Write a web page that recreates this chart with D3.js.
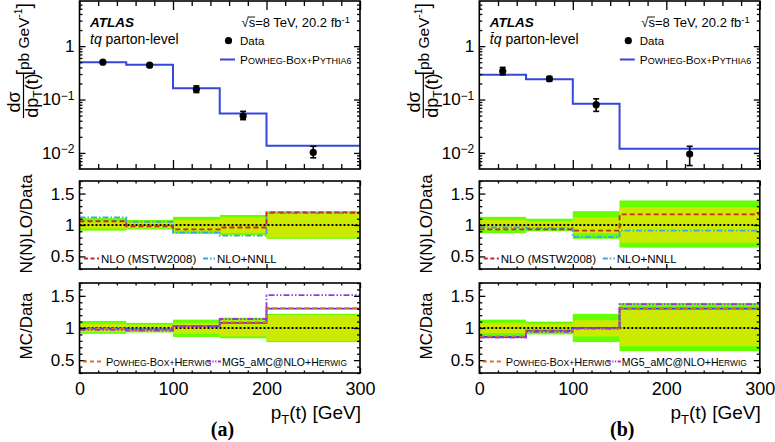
<!DOCTYPE html>
<html><head><meta charset="utf-8">
<script src="https://cdn.jsdelivr.net/npm/d3@7"></script>
<style>
body{margin:0;background:#fff}
text{font-family:"Liberation Sans",Arial,Helvetica,sans-serif;fill:#000}
</style>
</head><body>
<svg id="c" width="775" height="442" xmlns="http://www.w3.org/2000/svg"></svg>
<script>
// ---------------- data: panel (a) tq ----------------
const binsA = [0, 50, 100, 150, 200, 300];
const dataA = [0.50, 0.44, 0.155, 0.049, 0.0102];
const dataUpA = [0.53, 0.47, 0.180, 0.060, 0.0133];
const dataDnA = [0.47, 0.41, 0.135, 0.042, 0.0081];
const pythiaA = [0.50, 0.45, 0.163, 0.055, 0.0136];
const totHiA = [1.11, 1.08, 1.13, 1.16, 1.22];
const totLoA = [0.91, 0.93, 0.86, 0.84, 0.78];
const statHiA = [1.06, 1.05, 1.08, 1.12, 1.20];
const statLoA = [0.94, 0.95, 0.91, 0.87, 0.80];
const nloA = [1.06, 0.98, 0.93, 0.96, 1.20];
const nnllA = [1.12, 1.05, 0.88, 0.83, 1.19];
const pythiaRatA = [0.99, 0.98, 1.03, 1.08, 1.30];
const herwigA = [0.99, 0.97, 1.03, 1.09, 1.31];
const mg5A = [0.97, 0.96, 1.02, 1.14, 1.51];

// ---------------- data: panel (b) tbar q ----------------
const binsB = [0, 50, 100, 150, 300];
const dataB = [0.34, 0.245, 0.080, 0.0095];
const dataUpB = [0.40, 0.27, 0.103, 0.0133];
const dataDnB = [0.29, 0.22, 0.060, 0.0058];
const pythiaB = [0.29, 0.24, 0.083, 0.012];
const totHiB = [1.13, 1.10, 1.22, 1.39];
const totLoB = [0.87, 0.90, 0.78, 0.64];
const statHiB = [1.08, 1.06, 1.12, 1.28];
const statLoB = [0.92, 0.94, 0.87, 0.72];
const nloB = [0.93, 0.93, 0.91, 1.17];
const nnllB = [0.96, 0.95, 0.81, 0.91];
const pythiaRatB = [0.86, 0.96, 1.00, 1.30];
const herwigB = [0.87, 0.95, 0.99, 1.31];
const mg5B = [0.85, 0.94, 0.99, 1.37];

// ---------------- axis ticks ----------------
const xMajorTicks = [0, 100, 200, 300];
const logMajorTicks = [0.01, 0.1, 1];
const ratioMajorTicks = [0.5, 1, 1.5];

// ---------------- styles ----------------
const C = {
  green: "#66ff00", yellow: "#ccea00", blue: "#3347dd", red: "#c8281e",
  nnll: "#3aa6e6", orange: "#e0702a", purple: "#9a35d8"
};

const svg = d3.select("#c");

function addSC(t, segs, big, small) {
  segs.forEach(([s, isBig]) => {
    t.append("tspan").attr("font-size", isBig ? big : small).text(s);
  });
}

function drawPanel(p) {
  const g = svg.append("g").attr("transform", `translate(${p.dx},0)`);
  const L = 79.5, R = 360;
  const TT = 1, TB = 169, MT = 181, MB = 269, BT = 283, BB = 373;
  const x = d3.scaleLinear().domain([0, 300]).range([L, R]);
  const yT = d3.scaleLog().domain([0.005, 7]).range([TB, TT]);
  const yM = d3.scaleLinear().domain([0.3, 1.7]).range([MB, MT]);
  const yB = d3.scaleLinear().domain([0.3, 1.7]).range([BB, BT]);
  const bins = p.bins;
  const stepPts = vals => vals.map((v, i) => [bins[i], v]).concat([[bins[bins.length - 1], vals[vals.length - 1]]]);
  const stepLine = y => d3.line().x(d => x(d[0])).y(d => y(d[1])).curve(d3.curveStepAfter);
  const centers = bins.slice(0, -1).map((b, i) => (b + bins[i + 1]) / 2);

  // ---------- ticks helper ----------
  function ticks(y, top, bottom, xMaj, xMin, yMaj, yMin, yMajVals, yMinVals) {
    const xMinVals = d3.range(0, 301, 20).filter(v => v % 100 !== 0);
    const rm = s => s.select(".domain").remove();
    const tg = g.append("g").attr("class", "ticks");
    [[d3.axisBottom, bottom], [d3.axisTop, top]].forEach(([ax, pos]) => {
      tg.append("g").attr("transform", `translate(0,${pos})`)
        .call(ax(x).tickValues(xMinVals).tickSize(-xMin).tickFormat("")).call(rm);
      tg.append("g").attr("transform", `translate(0,${pos})`)
        .call(ax(x).tickValues(xMajorTicks).tickSize(-xMaj).tickFormat("")).call(rm);
    });
    [[d3.axisLeft, L], [d3.axisRight, R]].forEach(([ax, pos]) => {
      tg.append("g").attr("transform", `translate(${pos},0)`)
        .call(ax(y).tickValues(yMinVals).tickSize(-yMin).tickFormat("")).call(rm);
      tg.append("g").attr("transform", `translate(${pos},0)`)
        .call(ax(y).tickValues(yMajVals).tickSize(-yMaj).tickFormat("")).call(rm);
    });
    tg.selectAll("line").attr("stroke", "#000").attr("stroke-width", 1.3);
    g.append("rect").attr("x", L).attr("y", top).attr("width", R - L).attr("height", bottom - top)
      .attr("fill", "none").attr("stroke", "#000").attr("stroke-width", 1.6);
  }

  // ================= TOP PANEL =================
  g.append("path").attr("d", stepLine(yT)(stepPts(p.pythia)))
    .attr("fill", "none").attr("stroke", C.blue).attr("stroke-width", 2);
  const dg = g.append("g");
  centers.forEach((c, i) => {
    const cx = x(c);
    dg.append("line").attr("x1", cx).attr("x2", cx).attr("y1", yT(p.up[i])).attr("y2", yT(p.dn[i]))
      .attr("stroke", "#000").attr("stroke-width", 1.6);
    [p.up[i], p.dn[i]].forEach(v => dg.append("line").attr("x1", cx - 3).attr("x2", cx + 3)
      .attr("y1", yT(v)).attr("y2", yT(v)).attr("stroke", "#000").attr("stroke-width", 1.6));
    dg.append("circle").attr("cx", cx).attr("cy", yT(p.data[i])).attr("r", 3.6).attr("fill", "#000");
  });
  const logMin = [];
  for (let k = -3; k <= 0; k++) for (let m = 2; m <= 9; m++) {
    const v = m * Math.pow(10, k);
    if (v > 0.005 && v < 7) logMin.push(v);
  }
  ticks(yT, TT, TB, 9, 5, 6, 3, logMajorTicks, logMin);
  // log labels
  const yl = g.append("g").attr("transform", `translate(${L},0)`)
    .call(d3.axisLeft(yT).tickValues(logMajorTicks).tickSize(0).tickPadding(5));
  yl.select(".domain").remove();
  yl.selectAll("text").attr("font-size", 17).attr("font-family", '"Liberation Sans",Arial,sans-serif')
    .each(function (d) {
      const t = d3.select(this);
      const e = Math.round(Math.log10(d));
      t.text(null);
      if (e === 0) { t.text("1"); }
      else {
        t.append("tspan").text("10");
        t.append("tspan").attr("font-size", 12).attr("dy", "-0.45em").text("\u2212" + (-e));
      }
    });

  // top panel texts
  g.append("text").attr("x", 90).attr("y", 27).attr("font-size", 13.5)
    .attr("font-weight", "bold").attr("font-style", "italic").text("ATLAS");
  const proc = g.append("text").attr("x", 90).attr("y", 43.5).attr("font-size", 14);
  proc.append("tspan").attr("font-style", "italic").text("t");
  proc.append("tspan").attr("font-style", "italic").text("q");
  proc.append("tspan").text(" parton-level");
  if (p.bar) {
    const ex = proc.node().getExtentOfChar(0);
    g.append("line").attr("x1", ex.x + 1.5).attr("x2", ex.x + ex.width + 0.5)
      .attr("y1", 32.5).attr("y2", 32.5).attr("stroke", "#000").attr("stroke-width", 1);
  }
  const ecm = g.append("text").attr("x", 350).attr("y", 27).attr("font-size", 13).attr("text-anchor", "end");
  ecm.append("tspan").text("\u221As=8 TeV, 20.2 fb");
  ecm.append("tspan").attr("font-size", 9.5).attr("dy", "-0.45em").text("-1");
  const sx = ecm.node().getExtentOfChar(1);
  const sq = ecm.node().getExtentOfChar(0);
  g.append("line").attr("x1", sq.x + sq.width - 1).attr("x2", sx.x + sx.width)
    .attr("y1", 17).attr("y2", 17).attr("stroke", "#000").attr("stroke-width", 0.9);
  g.append("circle").attr("cx", 228.5).attr("cy", 40.7).attr("r", 3.6).attr("fill", "#000");
  g.append("text").attr("x", 240).attr("y", 44.5).attr("font-size", 11.5).text("Data");
  g.append("line").attr("x1", 220).attr("x2", 235).attr("y1", 59.5).attr("y2", 59.5)
    .attr("stroke", C.blue).attr("stroke-width", 2);
  addSC(g.append("text").attr("x", 240).attr("y", 63.5),
    [["P", 1], ["OWHEG-", 0], ["B", 1], ["OX+", 0], ["P", 1], ["YTHIA6", 0]], 11.8, 9.0);

  // top y title (rotated)
  const tt = g.append("g").attr("transform", "rotate(-90)");
  tt.append("text").attr("x", -102).attr("y", 20).attr("font-size", 18).attr("text-anchor", "middle").text("d\u03C3");
  tt.append("line").attr("x1", -118).attr("x2", -73).attr("y1", 23.5).attr("y2", 23.5)
    .attr("stroke", "#000").attr("stroke-width", 1.2);
  const den = tt.append("text").attr("x", -95.5).attr("y", 38).attr("font-size", 18).attr("text-anchor", "middle");
  den.append("tspan").text("dp");
  den.append("tspan").attr("font-size", 12).attr("dy", 4).text("T");
  den.append("tspan").attr("dy", -4).text("(t)");
  const un = tt.append("text").attr("x", -3).attr("y", 29).attr("font-size", 15.5).attr("text-anchor", "end");
  un.append("tspan").attr("font-size", 20).attr("dy", 1.5).text("[");
  un.append("tspan").attr("dy", -1.5).text("pb GeV");
  un.append("tspan").attr("font-size", 10).attr("dy", -7).text("-1");
  un.append("tspan").attr("font-size", 20).attr("dy", 8.5).text("]");

  // ================= RATIO PANELS =================
  function bands(y) {
    bins.slice(0, -1).forEach((b, i) => {
      g.append("rect").attr("x", x(b)).attr("width", x(bins[i + 1]) - x(b))
        .attr("y", y(p.totHi[i])).attr("height", y(p.totLo[i]) - y(p.totHi[i])).attr("fill", C.green);
      g.append("rect").attr("x", x(b)).attr("width", x(bins[i + 1]) - x(b))
        .attr("y", y(p.statHi[i])).attr("height", y(p.statLo[i]) - y(p.statHi[i])).attr("fill", C.yellow);
    });
    g.append("line").attr("x1", x(0)).attr("x2", x(300)).attr("y1", y(1)).attr("y2", y(1))
      .attr("stroke", "#000").attr("stroke-width", 2).attr("stroke-dasharray", "2,2");
  }
  function ratioLine(y, vals, color, dash, w) {
    g.append("path").attr("d", stepLine(y)(stepPts(vals))).attr("fill", "none")
      .attr("stroke", color).attr("stroke-width", w || 1.8).attr("stroke-dasharray", dash || null);
  }
  function ratioLabels(y) {
    const a = g.append("g").attr("transform", `translate(${L},0)`)
      .call(d3.axisLeft(y).tickValues(ratioMajorTicks).tickSize(0).tickPadding(5).tickFormat(d3.format("")));
    a.select(".domain").remove();
    a.selectAll("text").attr("font-size", 17).attr("font-family", '"Liberation Sans",Arial,sans-serif');
  }
  const ratioMinor = d3.range(0.3, 1.71, 0.1).map(v => +v.toFixed(2)).filter(v => ratioMajorTicks.indexOf(v) < 0);

  // middle
  bands(yM);
  ratioLine(yM, p.nnll, C.nnll, "6,2,1.5,2");
  ratioLine(yM, p.nlo, C.red, "5,3");
  ticks(yM, MT, MB, 5, 2.5, 6, 3, ratioMajorTicks, ratioMinor);
  ratioLabels(yM);
  g.append("line").attr("x1", 84).attr("x2", 99).attr("y1", 258.5).attr("y2", 258.5)
    .attr("stroke", C.red).attr("stroke-width", 1.8).attr("stroke-dasharray", "4,2.5");
  g.append("text").attr("x", 101).attr("y", 263).attr("font-size", 11.5).text("NLO (MSTW2008)");
  g.append("line").attr("x1", 203).attr("x2", 215).attr("y1", 258.5).attr("y2", 258.5)
    .attr("stroke", C.nnll).attr("stroke-width", 1.8).attr("stroke-dasharray", "5,2,1.5,2");
  g.append("text").attr("x", 217).attr("y", 263).attr("font-size", 11.5).text("NLO+NNLL");
  g.append("text").attr("transform", "rotate(-90)").attr("x", -224).attr("y", 32)
    .attr("font-size", 17).attr("text-anchor", "middle").text("N(N)LO/Data");

  // bottom
  bands(yB);
  ratioLine(yB, p.pythiaRat, C.blue, null, 1.8);
  ratioLine(yB, p.herwig, C.orange, "5,3");
  ratioLine(yB, p.mg5, C.purple, "6,2,1.5,2,1.5,2");
  ticks(yB, BT, BB, 5, 2.5, 6, 3, ratioMajorTicks, ratioMinor);
  ratioLabels(yB);
  g.append("line").attr("x1", 83).attr("x2", 101).attr("y1", 361.5).attr("y2", 361.5)
    .attr("stroke", C.orange).attr("stroke-width", 1.8).attr("stroke-dasharray", "4,3");
  addSC(g.append("text").attr("x", 106).attr("y", 365.5),
    [["P", 1], ["OWHEG-", 0], ["B", 1], ["OX+", 0], ["H", 1], ["ERWIG", 0]], 11, 8.6);
  g.append("line").attr("x1", 207).attr("x2", 221).attr("y1", 361.5).attr("y2", 361.5)
    .attr("stroke", C.purple).attr("stroke-width", 1.8).attr("stroke-dasharray", "4,1.5,1.2,1.5,1.2,1.5");
  addSC(g.append("text").attr("x", 222).attr("y", 365.5),
    [["MG5_aMC@NLO+H", 1], ["ERWIG", 0]], 10.5, 8.4);
  g.append("text").attr("transform", "rotate(-90)").attr("x", -326).attr("y", 32)
    .attr("font-size", 17).attr("text-anchor", "middle").text("MC/Data");

  // x axis labels
  const xa = g.append("g").attr("transform", `translate(0,${BB})`)
    .call(d3.axisBottom(x).tickValues(xMajorTicks).tickSize(0).tickPadding(9).tickFormat(d3.format("d")));
  xa.select(".domain").remove();
  xa.selectAll("text").attr("font-size", 18).attr("font-family", '"Liberation Sans",Arial,sans-serif');
  const xt = g.append("text").attr("x", 361).attr("y", 419).attr("font-size", 19).attr("text-anchor", "end");
  xt.append("tspan").text("p");
  xt.append("tspan").attr("font-size", 13).attr("dy", 5).text("T");
  xt.append("tspan").attr("dy", -5).text("(t) [GeV]");
  g.append("text").attr("x", 222.5).attr("y", 436).attr("font-size", 20).attr("font-weight", "bold")
    .attr("text-anchor", "middle").style("font-family", '"Liberation Serif","Times New Roman",serif').text(p.label);
}

drawPanel({
  dx: 0, label: "(a)", bar: false, bins: binsA, data: dataA, up: dataUpA, dn: dataDnA, pythia: pythiaA,
  totHi: totHiA, totLo: totLoA, statHi: statHiA, statLo: statLoA, nlo: nloA, nnll: nnllA,
  pythiaRat: pythiaRatA, herwig: herwigA, mg5: mg5A
});
drawPanel({
  dx: 399.8, label: "(b)", bar: true, bins: binsB, data: dataB, up: dataUpB, dn: dataDnB, pythia: pythiaB,
  totHi: totHiB, totLo: totLoB, statHi: statHiB, statLo: statLoB, nlo: nloB, nnll: nnllB,
  pythiaRat: pythiaRatB, herwig: herwigB, mg5: mg5B
});
</script>
</body></html>
